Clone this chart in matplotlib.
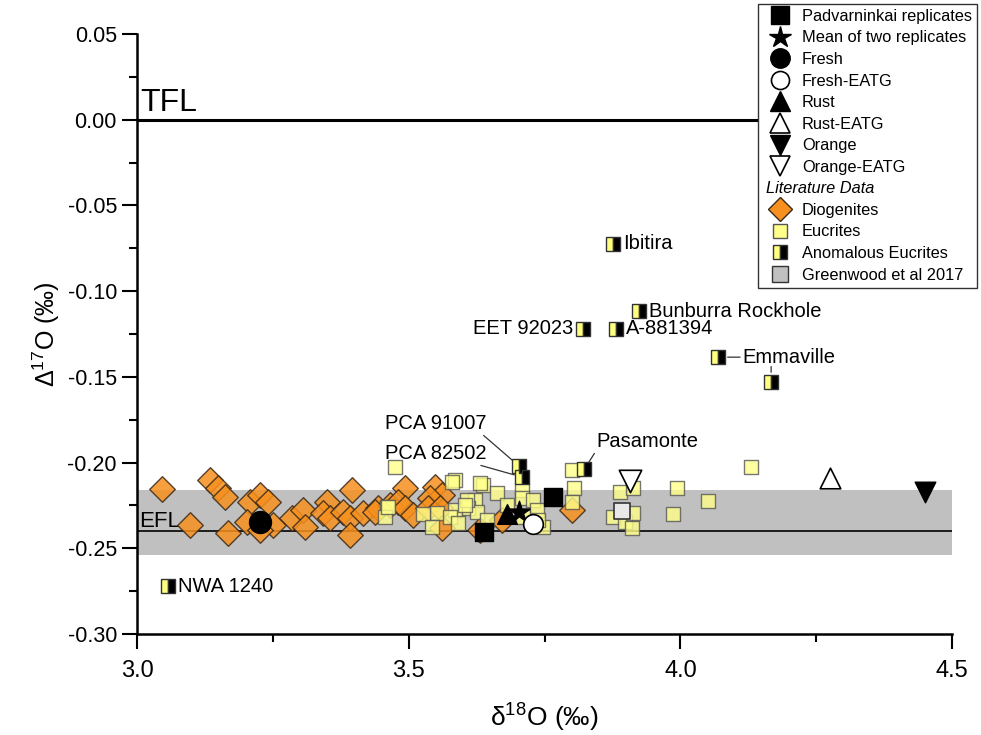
import matplotlib
matplotlib.use('Agg')
import matplotlib.pyplot as plt
from matplotlib.lines import Line2D
import numpy as np

plt.rcParams['font.family'] = ['Liberation Sans', 'DejaVu Sans']
plt.rcParams['mathtext.fontset'] = 'custom'
plt.rcParams['mathtext.rm'] = 'Liberation Sans'
plt.rcParams['mathtext.it'] = 'Liberation Sans:italic'

# Literature data: diogenites (d18O, D17O)
dio_x = [3.046, 3.134, 3.149, 3.162, 3.098, 3.167, 3.208, 3.202, 3.226, 3.241,
         3.250, 3.226, 3.285, 3.306, 3.309, 3.350, 3.342, 3.355, 3.396, 3.379,
         3.392, 3.416, 3.392, 3.444, 3.466, 3.438, 3.493, 3.480, 3.493, 3.508,
         3.548, 3.561, 3.539, 3.536, 3.558, 3.561, 3.631, 3.672, 3.801]
dio_y = [-0.2155, -0.2102, -0.2149, -0.2201, -0.2364, -0.2411, -0.2230, -0.2347, -0.2189, -0.2230,
         -0.2364, -0.2394, -0.2324, -0.2277, -0.2376, -0.2230, -0.2294, -0.2324, -0.2160, -0.2289,
         -0.2324, -0.2294, -0.2423, -0.2265, -0.2248, -0.2289, -0.2149, -0.2230, -0.2265, -0.2306,
         -0.2143, -0.2189, -0.2207, -0.2265, -0.2265, -0.2382, -0.2394, -0.2335, -0.2277]

# eucrites
euc_x = [3.475, 3.585, 3.637, 3.663, 3.709, 3.709, 3.729, 3.622, 3.609, 3.585,
         3.552, 3.526, 3.460, 3.456, 3.543, 3.576, 3.626, 3.644, 3.681, 3.736,
         3.747, 3.801, 3.804, 3.801, 3.889, 3.913, 3.876, 3.898, 3.911, 3.913,
         3.994, 3.987, 4.051, 4.130, 3.580, 3.631, 3.607, 3.738, 3.710, 3.462,
         3.591, 3.604]
euc_y = [-0.2026, -0.2102, -0.2131, -0.2178, -0.2160, -0.2207, -0.2218, -0.2218, -0.2265, -0.2277,
         -0.2294, -0.2300, -0.2259, -0.2318, -0.2376, -0.2318, -0.2289, -0.2335, -0.2248, -0.2277,
         -0.2376, -0.2044, -0.2149, -0.2230, -0.2172, -0.2149, -0.2318, -0.2347, -0.2382, -0.2294,
         -0.2149, -0.2300, -0.2224, -0.2026, -0.2114, -0.2120, -0.2218, -0.2335, -0.2318, -0.2259,
         -0.2353, -0.2248]

# anomalous eucrites
anom_names = ['Ibitira', 'Bunburra Rockhole', 'EET 92023', 'A-881394', 'Emmaville', '',
              'NWA 1240', 'PCA 91007', 'PCA 82502', 'Pasamonte']
anom_x = [3.876, 3.924, 3.821, 3.882, 4.069, 4.167, 3.057, 3.703, 3.709, 3.823]
anom_y = [-0.0722, -0.1116, -0.1220, -0.1220, -0.1385, -0.1530, -0.2720, -0.2020, -0.2085, -0.2040]

# Padvarninkai (this study)
rep_x = [3.639, 3.766]
rep_y = [-0.2405, -0.2200]
mean_x, mean_y = [3.703], [-0.2290]
fresh_x, fresh_y = [3.226], [-0.2347]
fresh_eatg_x, fresh_eatg_y = [3.729], [-0.2360]
rust_x, rust_y = [3.681], [-0.2300]
rust_eatg_x, rust_eatg_y = [4.275], [-0.2090]
orange_x, orange_y = [4.450], [-0.2170]
orange_eatg_x, orange_eatg_y = [3.907], [-0.2110]
grey_x, grey_y = [3.893], [-0.2280]

efl = -0.240
efl_lo, efl_hi = -0.254, -0.216

yticks = [-0.30, -0.25, -0.20, -0.15, -0.10, -0.05, 0.00, 0.05]
ytick_labels = ['-0.30', '-0.25', '-0.20', '-0.15', '-0.10', '-0.05', '0.00', '0.05']
xticks = [3.0, 3.5, 4.0, 4.5]
xtick_labels = ['3.0', '3.5', '4.0', '4.5']

fig = plt.figure(figsize=(9.81, 7.35), dpi=100)
ax = fig.add_axes([0.1397, 0.1374, 0.8308, 0.8163])

ax.axhspan(efl_lo, efl_hi, color='#c0c0c0', lw=0, zorder=0)
ax.axhline(efl, color='black', lw=1.2, zorder=1)
ax.axhline(0.0, color='black', lw=2.2, zorder=1)
ax.text(3.005, 0.010, 'TFL', fontsize=23, va='center', ha='left')
ax.text(3.004, -0.2345, 'EFL', fontsize=16, va='center', ha='left', zorder=1)

ax.scatter(dio_x, dio_y, marker='D', s=170, facecolor='#f7901e', edgecolor='#3a2a1a',
           alpha=0.85, lw=1.0, zorder=3)
ax.scatter(euc_x, euc_y, marker='s', s=115, facecolor='#ffff8a', edgecolor='#555555',
           alpha=0.8, lw=1.0, zorder=4)
ax.plot(anom_x, anom_y, ls='none', marker='s', ms=10, fillstyle='left',
        mfc='#ffff80', mfcalt='black', mec='#333333', mew=1.0, zorder=5)
ax.scatter(grey_x, grey_y, marker='s', s=120, facecolor='#e8e8e8', edgecolor='#333333', lw=1.2, zorder=5)

ax.scatter(rep_x, rep_y, marker='s', s=180, color='black', zorder=6)
ax.scatter(mean_x, mean_y, marker='*', s=260, color='black', zorder=6)
ax.scatter(fresh_x, fresh_y, marker='o', s=250, color='black', zorder=6)
ax.scatter(fresh_eatg_x, fresh_eatg_y, marker='o', s=200, facecolor='white', edgecolor='black', lw=1.2, zorder=6)
ax.scatter(rust_x, rust_y, marker='^', s=200, color='black', zorder=6)
ax.scatter(rust_eatg_x, rust_eatg_y, marker='^', s=220, facecolor='white', edgecolor='black', lw=1.2, zorder=6)
ax.scatter(orange_x, orange_y, marker='v', s=220, color='black', zorder=6)
ax.scatter(orange_eatg_x, orange_eatg_y, marker='v', s=260, facecolor='white', edgecolor='black', lw=1.2, zorder=6)

# labels for the anomalous eucrites
lab = dict(fontsize=14.5, va='center')
line = dict(arrowstyle='-', color='#333333', lw=0.9, shrinkA=0)
ax.annotate('Ibitira', (anom_x[0], anom_y[0]), xytext=(7, 0), textcoords='offset points', ha='left', **lab)
ax.annotate('Bunburra Rockhole', (anom_x[1], anom_y[1]), xytext=(7, 0), textcoords='offset points', ha='left', **lab)
ax.annotate('EET 92023', (anom_x[2], anom_y[2]), xytext=(-7, 0), textcoords='offset points', ha='right', **lab)
ax.annotate('A-881394', (anom_x[3], anom_y[3]), xytext=(7, 0), textcoords='offset points', ha='left', **lab)
ax.annotate('Emmaville', (anom_x[4], anom_y[4]), xytext=(4.115, anom_y[4]), ha='left',
            arrowprops=dict(line, shrinkB=7), **lab)
ax.annotate('', (anom_x[5], anom_y[5]), xytext=(anom_x[5], -0.1440),
            arrowprops=dict(line, shrinkB=7))
ax.annotate('NWA 1240', (anom_x[6], anom_y[6]), xytext=(7, 0), textcoords='offset points', ha='left', **lab)
ax.annotate('PCA 91007', (anom_x[7], anom_y[7]), xytext=(3.456, -0.177), ha='left',
            arrowprops=dict(line, shrinkB=6, relpos=(0.92, 0.1)), **lab)
ax.annotate('PCA 82502', (anom_x[8], anom_y[8]), xytext=(3.456, -0.1945), ha='left',
            arrowprops=dict(line, shrinkB=6, relpos=(0.85, 0.0)), **lab)
ax.annotate('Pasamonte', (anom_x[9], anom_y[9]), xytext=(3.845, -0.1875), ha='left',
            arrowprops=dict(line, shrinkB=6, relpos=(0.0, 0.0)), **lab)

ax.set_xlim(3.0, 4.5)
ax.set_ylim(-0.30, 0.05)
ax.set_xticks(xticks)
ax.set_xticklabels(xtick_labels)
ax.set_xticks([3.25, 3.75, 4.25], minor=True)
ax.set_yticks(yticks)
ax.set_yticklabels(ytick_labels)
ax.set_yticks([-0.275, -0.225, -0.175, -0.125, -0.075, -0.025, 0.025], minor=True)
ax.tick_params(which='major', direction='out', length=11, width=1.5)
ax.tick_params(which='minor', direction='out', length=6, width=1.5)
ax.tick_params(axis='y', labelsize=15.5)
ax.tick_params(axis='x', labelsize=17, pad=8)
for s in ['top', 'right']:
    ax.spines[s].set_visible(False)
for s in ['left', 'bottom']:
    ax.spines[s].set_linewidth(1.8)

ax.set_xlabel('δ$^{18}$O (‰)', fontsize=19, labelpad=14)
ax.set_ylabel('Δ$^{17}$O (‰)', fontsize=18, labelpad=4)

handles = [
    Line2D([], [], ls='none', marker='s', ms=13, color='black'),
    Line2D([], [], ls='none', marker='*', ms=16, color='black'),
    Line2D([], [], ls='none', marker='o', ms=14, color='black'),
    Line2D([], [], ls='none', marker='o', ms=13, mfc='white', mec='black', mew=1.2),
    Line2D([], [], ls='none', marker='^', ms=14, color='black'),
    Line2D([], [], ls='none', marker='^', ms=15, mfc='white', mec='black', mew=1.2),
    Line2D([], [], ls='none', marker='v', ms=15, color='black'),
    Line2D([], [], ls='none', marker='v', ms=15, mfc='white', mec='black', mew=1.2),
    Line2D([], [], ls='none'),
    Line2D([], [], ls='none', marker='D', ms=12, mfc='#f7901e', mec='#3a2a1a', mew=1.0),
    Line2D([], [], ls='none', marker='s', ms=10, mfc='#ffff8a', mec='#555555', mew=1.0),
    Line2D([], [], ls='none', marker='s', ms=10, fillstyle='left', mfc='#ffff80', mfcalt='black', mec='#333333'),
    Line2D([], [], ls='none', marker='s', ms=11, mfc='#c0c0c0', mec='#333333', mew=1.0),
]
labels = ['Padvarninkai replicates', 'Mean of two replicates', 'Fresh', 'Fresh-EATG', 'Rust',
          'Rust-EATG', 'Orange', 'Orange-EATG', 'Literature Data', 'Diogenites', 'Eucrites',
          'Anomalous Eucrites', 'Greenwood et al 2017']
leg = fig.legend(handles, labels, loc='upper right', bbox_to_anchor=(0.999, 0.999),
                 fontsize=11.8, frameon=True, fancybox=False, framealpha=1, edgecolor='#333333',
                 labelspacing=0.4, handletextpad=0.35, borderpad=0.3, handlelength=2.0,
                 borderaxespad=0.2)
leg.get_frame().set_linewidth(1.0)
leg.set_zorder(10)
lit = leg.get_texts()[8]
lit.set_style('italic')
lit.set_position((-36, 0))

fig.savefig('out.png', dpi=100)
